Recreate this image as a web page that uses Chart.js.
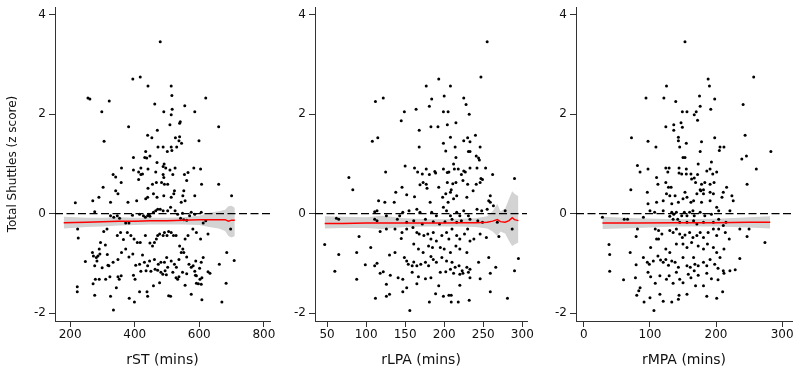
<!DOCTYPE html>
<html>
<head>
<meta charset="utf-8">
<script src="https://cdn.jsdelivr.net/npm/chart.js@4.4.1/dist/chart.umd.min.js"></script>
<style>
  body { margin: 0; background: #fff; width: 800px; height: 375px; position: relative; overflow: hidden; }
  .panel { position: absolute; top: 0; height: 375px; }
</style>
</head>
<body>
<div class="panel" style="left:0;width:280px"><canvas id="chartSt"></canvas></div>
<div class="panel" style="left:262px;width:275px"><canvas id="chartLpa"></canvas></div>
<div class="panel" style="left:522px;width:280px"><canvas id="chartMpa"></canvas></div>
<script>
// shared y axis
const yTicks = [-2, 0, 2, 4];

// rST panel
const stTicks = [200, 400, 600, 800];
const stPoints = [
  [479,3.46],[394,2.71],[417,2.75],[441,2.57],[513,2.57],[515,2.38],[255,2.33],[261,2.31],[321,2.27],[620,2.33],
  [462,2.21],[555,2.17],[298,2.05],[490,2.05],[516,2.10],[513,1.99],[586,2.05],[541,1.85],[539,1.82],[509,1.79],
  [381,1.75],[660,1.75],[470,1.68],[440,1.58],[453,1.53],[305,1.46],[599,1.47],[526,1.53],[537,1.47],[539,1.55],
  [545,1.42],[472,1.34],[488,1.34],[513,1.34],[530,1.34],[434,1.25],[447,1.16],[431,1.13],[437,1.12],[396,1.13],
  [501,1.25],[515,1.27],[469,1.03],[491,1.00],[488,0.95],[496,0.92],[525,0.92],[509,0.88],[359,0.92],[396,0.88],
  [412,0.84],[419,0.92],[441,0.90],[419,0.79],[424,0.80],[465,0.84],[488,0.79],[518,0.79],[583,0.92],[604,0.90],
  [333,0.79],[341,0.74],[358,0.63],[412,0.69],[554,0.79],[565,0.83],[302,0.53],[441,0.51],[455,0.59],[467,0.63],
  [483,0.63],[492,0.59],[502,0.59],[561,0.67],[607,0.59],[660,0.59],[490,0.73],
  [341,0.46],[348,0.40],[523,0.46],[552,0.46],[216,0.22],[270,0.26],[289,0.33],[325,0.23],[379,0.23],[406,0.26],
  [434,0.30],[440,0.33],[458,0.40],[469,0.33],[490,0.36],[513,0.33],[521,0.40],[544,0.23],[549,0.36],[556,0.26],
  [586,0.36],[700,0.36],[276,0.04],[325,-0.04],[335,-0.07],[346,-0.04],[353,-0.09],[372,-0.19],[382,-0.19],[393,-0.03],
  [415,-0.01],[427,-0.04],[433,-0.07],[440,-0.04],[444,-0.01],[447,-0.05],[458,0.03],[465,0.06],[471,0.09],[479,0.09],
  [488,0.06],[502,0.06],[511,0.13],[525,0.06],[533,-0.01],[542,-0.09],[548,0.01],[552,-0.12],[561,-0.13],[570,-0.04],
  [575,0.03],[586,-0.01],[606,0.03],[620,-0.14],[612,-0.19],
  [223,-0.31],[225,-0.49],[304,-0.36],[314,-0.31],[346,-0.44],[356,-0.38],[365,-0.52],[377,-0.38],[388,-0.44],[398,-0.51],
  [408,-0.58],[417,-0.58],[433,-0.44],[447,-0.59],[455,-0.65],[461,-0.58],[467,-0.51],[471,-0.44],[477,-0.41],[488,-0.44],
  [492,-0.38],[500,-0.44],[505,-0.36],[513,-0.38],[520,-0.44],[528,-0.44],[539,-0.65],[549,-0.71],[556,-0.51],[565,-0.44],
  [580,-0.31],[591,-0.38],[604,-0.51],[627,-0.41],[697,-0.31],[294,-0.58],[290,-0.71],[309,-0.63],
  [247,-0.96],[269,-0.78],[272,-0.85],[281,-0.88],[286,-0.85],[292,-0.81],[283,-0.95],[276,-1.05],[299,-1.09],[315,-0.82],
  [317,-1.04],[320,-1.05],[333,-0.98],[348,-0.92],[359,-0.78],[372,-0.71],[382,-0.87],[394,-0.81],[403,-1.04],[415,-1.02],
  [424,-0.83],[430,-0.98],[440,-1.05],[446,-0.95],[461,-0.92],[463,-1.12],[473,-1.02],[481,-0.98],[492,-0.98],[499,-0.88],
  [502,-1.08],[513,-0.95],[523,-1.02],[529,-1.08],[537,-0.92],[544,-0.78],[552,-0.78],[561,-0.87],[568,-1.02],[575,-1.08],
  [581,-1.05],[589,-0.95],[601,-1.10],[606,-0.98],[612,-0.88],[662,-1.02],[685,-0.78],[708,-0.94],
  [271,-1.41],[278,-1.32],[290,-1.32],[310,-1.32],[323,-1.27],[348,-1.27],[352,-1.32],[358,-1.25],[396,-1.24],[401,-1.32],
  [419,-1.16],[435,-1.15],[450,-1.16],[471,-1.14],[481,-1.18],[487,-1.22],[494,-1.15],[498,-1.23],[518,-1.18],[528,-1.29],
  [533,-1.32],[537,-1.27],[548,-1.18],[561,-1.21],[586,-1.16],[588,-1.24],[591,-1.25],[602,-1.32],[608,-1.29],[627,-1.17],
  [633,-1.20],[222,-1.47],[222,-1.57],[276,-1.64],[325,-1.66],[343,-1.49],[383,-1.70],[399,-1.78],[415,-1.57],[438,-1.57],
  [440,-1.66],[458,-1.45],[477,-1.39],[505,-1.65],[511,-1.66],[556,-1.44],[575,-1.62],[591,-1.40],[597,-1.41],[606,-1.42],
  [608,-1.73],[670,-1.78],[683,-1.40],[334,-1.94]
];
const stFitX  = [180, 250, 300, 350, 400, 450, 500, 550, 600, 630, 660, 680, 690, 700, 710];
const stFit   = [-0.18, -0.17, -0.16, -0.15, -0.15, -0.14, -0.14, -0.13, -0.12, -0.12, -0.12, -0.12, -0.15, -0.13, -0.13];
const stHigh  = [-0.06, -0.08, -0.08, -0.07, -0.08, -0.08, -0.08, -0.07, -0.04, 0.02, 0.05, 0.08, 0.15, 0.16, 0.12];
const stLow   = [-0.30, -0.27, -0.26, -0.24, -0.23, -0.22, -0.22, -0.22, -0.23, -0.27, -0.30, -0.35, -0.45, -0.48, -0.45];

// rLPA panel
const lpaTicks = [50, 100, 150, 200, 250, 300];
const lpaPoints = [
  [255,3.46],[247,2.75],[193,2.71],[177,2.57],[208,2.57],[112,2.26],[122,2.33],[200,2.37],[184,2.31],[225,2.33],
  [181,2.16],[228,2.20],[232,2.00],[149,2.05],[164,2.10],[199,2.05],[205,2.05],[145,1.87],[183,1.75],[192,1.75],
  [204,1.79],[215,1.83],[168,1.68],[115,1.53],[108,1.46],[208,1.54],[199,1.42],[225,1.47],[230,1.53],[233,1.45],
  [240,1.58],[168,1.34],[214,1.34],[246,1.34],[202,1.26],[231,1.25],[233,1.25],[215,1.13],[241,1.16],[244,1.12],
  [245,1.08],[150,0.96],[162,0.92],[166,0.84],[172,0.80],[177,0.90],[181,0.79],[188,0.85],[189,0.82],[199,0.90],
  [204,0.83],[206,0.84],[212,1.00],[213,0.90],[218,0.90],[222,0.79],[225,0.86],[227,0.84],[233,0.92],[242,0.92],
  [253,0.92],[262,0.79],[290,0.71],[125,0.84],[78,0.73],[247,0.71],[249,0.69],[146,0.53],[169,0.58],[173,0.63],
  [177,0.59],[193,0.53],[204,0.63],[211,0.60],[215,0.63],[224,0.67],[230,0.59],[241,0.59],[246,0.63],[83,0.48],
  [178,0.51],[209,0.48],
  [138,0.43],[152,0.38],[162,0.34],[198,0.33],[202,0.40],[208,0.43],[212,0.30],[216,0.36],[229,0.33],[237,0.46],
  [257,0.26],[259,0.36],[116,0.26],[124,0.23],[136,0.23],[182,0.23],[205,0.23],[259,0.23],[263,0.16],[242,0.09],
  [248,0.06],[255,0.09],[278,0.06],[111,0.04],[114,0.06],[143,-0.04],[147,0.03],[155,0.06],[165,0.09],[169,0.03],
  [184,0.03],[190,-0.04],[199,0.13],[203,0.06],[208,-0.04],[216,0.03],[220,-0.04],[225,0.06],[231,-0.04],[62,-0.09],
  [65,-0.11],[111,-0.11],[114,-0.14],[126,-0.04],[140,-0.11],[152,-0.17],[161,-0.14],[172,-0.21],[176,-0.11],[186,-0.16],
  [194,-0.21],[201,-0.16],[210,-0.11],[216,-0.17],[222,-0.14],[233,-0.11],[243,-0.14],[249,-0.17],[268,-0.17],[287,-0.31],
  [118,-0.36],[126,-0.31],[137,-0.31],[146,-0.38],[152,-0.31],[160,-0.28],[165,-0.38],[168,-0.41],[174,-0.44],[179,-0.41],
  [183,-0.51],[186,-0.38],[190,-0.55],[197,-0.44],[203,-0.38],[206,-0.51],[210,-0.31],[216,-0.44],[220,-0.51],[226,-0.41],
  [230,-0.31],[233,-0.55],[238,-0.51],[246,-0.41],[254,-0.48],[270,-0.46],[91,-0.46],[47,-0.62],[65,-0.82],[88,-0.78],
  [106,-0.68],[145,-0.50],[161,-0.61],[167,-0.71],[173,-0.78],[180,-0.65],[185,-0.68],[195,-0.68],[200,-0.71],[208,-0.78],
  [215,-0.65],[220,-0.71],[229,-0.78],
  [130,-0.83],[137,-0.78],[149,-0.88],[152,-0.95],[154,-1.02],[159,-1.05],[161,-0.97],[165,-1.05],[170,-1.02],[176,-0.98],
  [180,-1.05],[183,-0.86],[186,-0.92],[190,-0.98],[197,-0.88],[203,-0.95],[210,-0.98],[214,-1.08],[219,-1.05],[223,-1.15],
  [229,-1.08],[233,-1.12],[244,-0.98],[257,-0.88],[266,-1.08],[295,-0.90],[99,-1.03],[114,-1.00],[111,-1.05],[60,-1.16],
  [88,-1.32],[118,-1.20],[122,-1.17],[131,-1.24],[141,-1.29],[147,-1.32],[159,-1.18],[167,-1.27],[176,-1.31],[183,-1.29],
  [195,-1.18],[202,-1.17],[208,-1.12],[212,-1.20],[220,-1.22],[224,-1.20],[231,-1.18],[233,-1.29],[246,-1.31],[259,-1.20],
  [290,-1.15],[126,-1.42],[130,-1.62],[126,-1.66],[112,-1.70],[147,-1.57],[152,-1.49],[165,-1.41],[189,-1.61],[193,-1.45],
  [199,-1.66],[206,-1.64],[209,-1.64],[209,-1.78],[218,-1.78],[220,-1.44],[232,-1.74],[259,-1.57],[281,-1.70],[181,-1.78],
  [156,-1.95]
];
const lpaFitX = [47, 70, 100, 120, 150, 180, 200, 220, 240, 255, 262, 268, 272, 278, 283, 287, 290, 295];
const lpaFit  = [-0.20, -0.20, -0.19, -0.19, -0.19, -0.19, -0.19, -0.18, -0.18, -0.17, -0.15, -0.12, -0.16, -0.17, -0.14, -0.08, -0.12, -0.14];
const lpaHigh = [-0.05, -0.06, -0.07, -0.04, -0.09, -0.11, -0.11, -0.10, -0.09, -0.05, 0.05, 0.20, 0.05, 0.10, 0.30, 0.45, 0.40, 0.35];
const lpaLow  = [-0.30, -0.29, -0.29, -0.31, -0.27, -0.26, -0.26, -0.26, -0.27, -0.30, -0.36, -0.45, -0.36, -0.40, -0.55, -0.65, -0.62, -0.58];

// rMPA panel
const mpaTicks = [0, 100, 200, 300];
const mpaPoints = [
  [153,3.46],[188,2.71],[257,2.75],[125,2.57],[190,2.57],[94,2.33],[121,2.33],[139,2.26],[175,2.37],[198,2.31],
  [241,2.20],[176,2.16],[192,2.10],[149,2.05],[156,2.05],[167,1.99],[170,2.05],[172,1.88],[124,1.75],[136,1.79],
  [136,1.68],[147,1.83],[149,1.74],[72,1.53],[97,1.46],[109,1.34],[143,1.54],[143,1.47],[155,1.42],[145,1.34],
  [178,1.45],[198,1.53],[206,1.34],[212,1.34],[205,1.27],[176,1.25],[244,1.58],[283,1.25],[150,1.13],[153,1.13],
  [239,1.10],[246,1.16],[81,0.97],[85,0.84],[97,0.90],[110,0.73],[124,0.92],[129,0.92],[127,0.84],[144,0.92],
  [144,0.82],[148,0.80],[155,0.90],[155,0.80],[162,0.80],[163,0.70],[167,0.72],[172,0.79],[173,1.00],[186,0.86],
  [191,0.90],[193,1.04],[195,0.80],[201,0.84],[261,0.90],[112,0.59],[124,0.63],[128,0.53],[132,0.53],[169,0.63],
  [176,0.48],[181,0.48],[178,0.59],[183,0.63],[191,0.59],[197,0.63],[216,0.53],[247,0.59],[71,0.48],
  [96,0.43],[125,0.40],[130,0.36],[138,0.36],[153,0.43],[156,0.33],[162,0.23],[171,0.40],[177,0.46],[181,0.40],
  [191,0.43],[196,0.40],[209,0.33],[211,0.43],[224,0.36],[226,0.26],[97,0.20],[110,0.23],[120,0.26],[133,0.20],
  [143,0.23],[150,0.30],[166,0.26],[178,0.23],[191,0.26],[201,0.13],[204,0.06],[221,0.06],[100,0.06],[107,0.03],
  [120,0.06],[133,0.03],[136,-0.01],[140,0.03],[148,-0.04],[152,0.03],[156,-0.04],[160,0.03],[165,0.06],[167,-0.04],
  [176,0.03],[183,-0.04],[193,-0.01],[28,-0.07],[61,-0.11],[66,-0.11],[90,-0.07],[130,-0.05],[135,-0.11],[142,-0.11],
  [145,-0.17],[156,-0.17],[166,-0.14],[171,-0.21],[181,-0.17],[196,-0.17],[204,-0.11],[211,-0.24],[215,-0.17],
  [81,-0.31],[108,-0.31],[113,-0.34],[118,-0.41],[130,-0.34],[135,-0.38],[140,-0.31],[145,-0.41],[149,-0.48],[153,-0.43],
  [160,-0.38],[165,-0.48],[171,-0.44],[176,-0.38],[181,-0.48],[188,-0.38],[196,-0.31],[201,-0.44],[204,-0.31],[214,-0.38],
  [220,-0.51],[236,-0.31],[250,-0.31],[247,-0.46],[79,-0.46],[38,-0.62],[39,-0.82],[39,-1.16],[70,-0.78],[79,-1.03],
  [110,-0.51],[101,-0.68],[113,-0.51],[124,-0.71],[130,-0.78],[140,-0.61],[150,-0.61],[156,-0.68],[163,-0.58],[173,-0.65],
  [181,-0.71],[187,-0.61],[196,-0.68],[201,-0.78],[206,-0.88],[212,-0.71],[274,-0.58],[236,-0.90],
  [90,-0.88],[96,-0.98],[99,-1.02],[105,-0.95],[112,-0.85],[116,-0.93],[120,-0.98],[124,-0.92],[128,-1.04],[133,-0.95],
  [138,-0.98],[143,-1.08],[150,-0.88],[156,-1.05],[161,-1.08],[166,-0.88],[168,-1.02],[173,-1.05],[181,-0.98],[186,-1.05],
  [191,-0.92],[198,-1.02],[203,-1.10],[211,-1.15],[212,-1.20],[221,-1.15],[229,-1.13],[60,-1.33],[78,-1.29],[97,-1.18],
  [101,-1.27],[108,-1.40],[115,-1.25],[125,-1.32],[129,-1.25],[135,-1.40],[140,-1.18],[145,-1.32],[150,-1.39],[158,-1.22],
  [162,-1.29],[167,-1.15],[169,-1.45],[173,-1.24],[181,-1.45],[186,-1.20],[193,-1.31],[203,-1.33],[80,-1.64],[83,-1.55],
  [85,-1.49],[91,-1.78],[100,-1.69],[115,-1.62],[120,-1.76],[133,-1.78],[143,-1.72],[144,-1.64],[156,-1.62],[186,-1.66],
  [201,-1.70],[210,-1.57],[106,-1.95]
];
const mpaFitX = [28, 80, 140, 200, 250, 282];
const mpaFit  = [-0.19, -0.19, -0.18, -0.18, -0.17, -0.17];
const mpaHigh = [-0.06, -0.09, -0.11, -0.10, -0.07, -0.05];
const mpaLow  = [-0.31, -0.29, -0.26, -0.26, -0.28, -0.30];

const axisColor = '#333';
const font = 'DejaVu Sans';

// dashed reference line at y = 0
const zeroLine = {
  id: 'zeroLine',
  afterDatasetsDraw(chart) {
    const { ctx, chartArea, scales } = chart;
    const y = scales.y.getPixelForValue(0);
    ctx.save();
    ctx.strokeStyle = '#000';
    ctx.lineWidth = 1.3;
    ctx.setLineDash([8, 3.5]);
    ctx.beginPath();
    ctx.moveTo(chartArea.left, y);
    ctx.lineTo(chartArea.right, y);
    ctx.stroke();
    ctx.restore();
  }
};

function drawPanel(id, p) {
  const curve = (vals) => vals.map((v, i) => ({ x: p.fitX[i], y: v }));
  new Chart(document.getElementById(id), {
    type: 'scatter',
    data: {
      datasets: [
        { data: curve(p.high), showLine: true, pointRadius: 0, borderWidth: 0, backgroundColor: '#d3d3d3', fill: '+1', order: 4 },
        { data: curve(p.low), showLine: true, pointRadius: 0, borderWidth: 0, fill: false, order: 3 },
        { data: p.points.map(d => ({ x: d[0], y: d[1] })), pointRadius: 1.5, pointBackgroundColor: '#000', pointBorderWidth: 0, order: 2 },
        { data: curve(p.fit), showLine: true, pointRadius: 0, borderColor: '#ff0000', borderWidth: 1.5, order: 1 }
      ]
    },
    options: {
      animation: false,
      responsive: true,
      maintainAspectRatio: false,
      layout: { padding: { top: 7, right: 10, left: 0, bottom: 0 } },
      plugins: { legend: { display: false }, tooltip: { enabled: false } },
      scales: {
        x: {
          type: 'linear',
          min: p.xMin,
          max: p.xMax,
          afterBuildTicks: s => { s.ticks = p.ticks.map(v => ({ value: v })); },
          afterFit: s => { s.height = 54; s.paddingLeft = 0; s.paddingRight = 0; },
          grid: { drawOnChartArea: false, tickLength: 6, tickColor: axisColor },
          border: { color: axisColor, width: 1 },
          ticks: { color: '#111', font: { family: font, size: 12 }, padding: 1, maxRotation: 0, autoSkip: false },
          title: { display: true, text: p.title, color: '#111', font: { family: font, size: 14 }, padding: { top: 0, bottom: 6 } }
        },
        y: {
          type: 'linear',
          min: -2.16,
          max: 4.16,
          afterBuildTicks: s => { s.ticks = yTicks.map(v => ({ value: v })); },
          afterFit: s => { s.width = p.yWidth; s.paddingTop = 0; s.paddingBottom = 0; },
          grid: { drawOnChartArea: false, tickLength: 6, tickColor: axisColor },
          border: { color: axisColor, width: 1 },
          ticks: { color: '#111', font: { family: font, size: 12 }, padding: 3 },
          title: {
            display: !!p.yTitle,
            text: p.yTitle || '',
            color: '#111',
            font: { family: font, size: 12 },
            padding: { top: 6, bottom: 0 }
          }
        }
      }
    },
    plugins: [zeroLine]
  });
}

drawPanel('chartSt', {
  points: stPoints, fitX: stFitX, fit: stFit, high: stHigh, low: stLow,
  ticks: stTicks, xMin: 153, xMax: 819, yWidth: 55,
  title: 'rST (mins)', yTitle: 'Total Shuttles (z score)'
});
drawPanel('chartLpa', {
  points: lpaPoints, fitX: lpaFitX, fit: lpaFit, high: lpaHigh, low: lpaLow,
  ticks: lpaTicks, xMin: 34.6, xMax: 306, yWidth: 53,
  title: 'rLPA (mins)'
});
drawPanel('chartMpa', {
  points: mpaPoints, fitX: mpaFitX, fit: mpaFit, high: mpaHigh, low: mpaLow,
  ticks: mpaTicks, xMin: -12, xMax: 315, yWidth: 54,
  title: 'rMPA (mins)'
});
</script>
</body>
</html>
